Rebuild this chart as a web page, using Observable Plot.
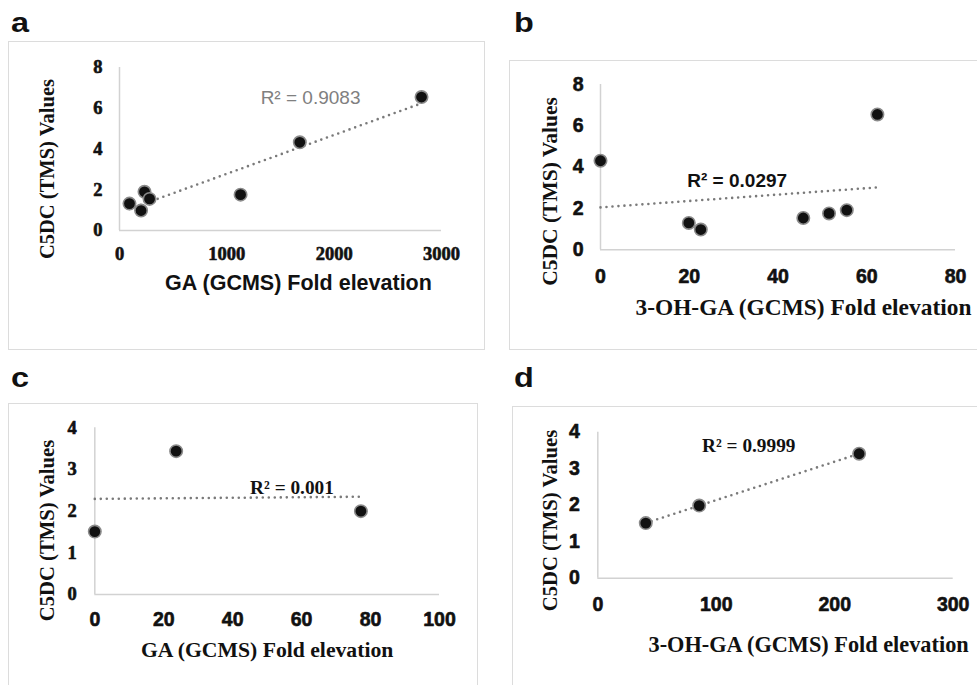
<!DOCTYPE html>
<html><head><meta charset="utf-8">
<script src="https://cdn.jsdelivr.net/npm/d3@7"></script>
<script src="https://cdn.jsdelivr.net/npm/@observablehq/plot@0.6"></script>
<style>
html,body{margin:0;padding:0;background:#fff;}
#page{position:relative;width:977px;height:685px;overflow:hidden;background:#fff;}
.frame{position:absolute;border:1.5px solid #dcdcdc;box-sizing:border-box;}
.letter{position:absolute;font-family:"Liberation Sans",Arial,Helvetica,sans-serif;font-weight:bold;font-size:27px;line-height:1;transform-origin:left top;transform:scaleX(1.2);color:#111;}
.panel{position:absolute;}
.panel svg{overflow:visible;max-width:none;background:transparent;}
</style></head><body><div id="page"></div>
<script>
// ---- data ----
const panelLetters = ["a", "b", "c", "d"];

const aX = [93, 201, 233, 280, 1128, 1680, 2814];
const aY = [1.32, 0.98, 1.90, 1.55, 1.76, 4.33, 6.55];
const bX = [0, 19.9, 22.6, 45.7, 51.5, 55.5, 62.4];
const bY = [4.31, 1.30, 0.98, 1.54, 1.76, 1.92, 6.55];
const cX = [0, 23.6, 77.2];
const cY = [1.51, 3.44, 2.00];
const dX = [40.5, 85.6, 220.6];
const dY = [1.51, 1.99, 3.41];

const aXTicks = [0, 1000, 2000, 3000];
const aYTicks = [0, 2, 4, 6, 8];
const bXTicks = [0, 20, 40, 60, 80];
const bYTicks = [0, 2, 4, 6, 8];
const cXTicks = [0, 20, 40, 60, 80, 100];
const cYTicks = [0, 1, 2, 3, 4];
const dXTicks = [0, 100, 200, 300];
const dYTicks = [0, 1, 2, 3, 4];

const r2Labels = ["R² = 0.9083", "R² = 0.0297", "R² = 0.001", "R² = 0.9999"];
const yTitles = ["C5DC (TMS) Values", "C5DC (TMS) Values", "C5DC (TMS) Values", "C5DC (TMS) Values"];
const xTitles = ["GA (GCMS) Fold elevation", "3-OH-GA (GCMS) Fold elevation", "GA (GCMS) Fold elevation", "3-OH-GA (GCMS) Fold elevation"];

// ---- layout / style ----
const SANS = '"Liberation Sans", Arial, Helvetica, sans-serif';
const SERIF = '"Liberation Serif", "Times New Roman", Times, serif';

const page = document.getElementById("page");

const frames = [
  {left: 8, top: 41, width: 477, height: 309},
  {left: 509, top: 60, width: 520, height: 290},
  {left: 8, top: 403, width: 470, height: 320},
  {left: 512, top: 406, width: 520, height: 320}
];
const letterPos = [{left: 11, top: 10}, {left: 514, top: 10}, {left: 11, top: 365}, {left: 514, top: 365}];

frames.forEach(f => {
  const d = document.createElement("div");
  d.className = "frame";
  Object.assign(d.style, {left: f.left + "px", top: f.top + "px", width: f.width + "px", height: f.height + "px"});
  page.appendChild(d);
});
panelLetters.forEach((t, i) => {
  const d = document.createElement("div");
  d.className = "letter";
  d.textContent = t;
  d.style.left = letterPos[i].left + "px";
  d.style.top = letterPos[i].top + "px";
  page.appendChild(d);
});

const panels = [
  {xs: aX, ys: aY, left: 0, top: 0, w: 490, h: 340, m: [67, 49, 110, 119],
   xDomain: [0, 3000], yDomain: [0, 8], xTicks: aXTicks, yTicks: aYTicks,
   xTickFont: SERIF, xTickSize: 18.5, xPad: 16, yTickFont: SERIF, yTickSize: 18.5, yPad: 17,
   r2: r2Labels[0], r2At: [1780, 6.52], r2Font: SANS, r2Size: 19, r2Weight: "normal", r2Fill: "#808080",
   yTitle: yTitles[0], yTitleFont: SERIF, yTitleSize: 20.5, yDx: -72, yDy: 20,
   xTitle: xTitles[0], xTitleFont: SANS, xTitleSize: 21.5, xAnchor: "bottom", xTextAnchor: "middle", xDx: 18, xDy: 53},
  {xs: bX, ys: bY, left: 490, top: 0, w: 487, h: 340, m: [84, 22, 90.7, 110],
   xDomain: [0, 80], yDomain: [0, 8], xTicks: bXTicks, yTicks: bYTicks,
   xTickFont: SANS, xTickSize: 19.5, xPad: 19, yTickFont: SANS, yTickSize: 19.5, yPad: 17,
   r2: r2Labels[1], r2At: [30.8, 3.35], r2Font: SANS, r2Size: 19, r2Weight: "bold", r2Fill: "#111",
   yTitle: yTitles[1], yTitleFont: SERIF, yTitleSize: 21.5, yDx: -50, yDy: 24.3,
   xTitle: xTitles[1], xTitleFont: SERIF, xTitleSize: 23.4, xAnchor: "bottom-left", xTextAnchor: "start", xDx: 35, xDy: 57.4},
  {xs: cX, ys: cY, left: 0, top: 340, w: 490, h: 345, m: [87.3, 51, 91, 94.3],
   xDomain: [0, 100], yDomain: [0, 4], xTicks: cXTicks, yTicks: cYTicks,
   xTickFont: SANS, xTickSize: 19.5, xPad: 18, yTickFont: SERIF, yTickSize: 18.5, yPad: 18,
   r2: r2Labels[2], r2At: [57.2, 2.57], r2Font: SERIF, r2Size: 19.3, r2Weight: "bold", r2Fill: "#111",
   yTitle: yTitles[2], yTitleFont: SERIF, yTitleSize: 20.7, yDx: -47.3, yDy: 19.3,
   xTitle: xTitles[2], xTitleFont: SERIF, xTitleSize: 21.7, xAnchor: "bottom", xTextAnchor: "middle", xDx: 0, xDy: 56},
  {xs: dX, ys: dY, left: 490, top: 340, w: 487, h: 345, m: [91.7, 24.3, 107.3, 107.3],
   xDomain: [0, 300], yDomain: [0, 4], xTicks: dXTicks, yTicks: dYTicks,
   xTickFont: SANS, xTickSize: 19.5, xPad: 19, yTickFont: SANS, yTickSize: 19.5, yPad: 18,
   r2: r2Labels[3], r2At: [127.4, 3.64], r2Font: SERIF, r2Size: 19.3, r2Weight: "bold", r2Fill: "#111",
   yTitle: yTitles[3], yTitleFont: SERIF, yTitleSize: 20.7, yDx: -47.3, yDy: 15.3,
   xTitle: xTitles[3], xTitleFont: SERIF, xTitleSize: 22.3, xAnchor: "bottom-left", xTextAnchor: "start", xDx: 50.7, xDy: 66.3}
];

panels.forEach(cfg => {
  const data = cfg.xs.map((x, i) => ({x, y: cfg.ys[i]}));
  const tickStyle = {tickSize: 0, fontWeight: "bold", fill: "#111", textStroke: "#111", textStrokeWidth: 0.6,
    tickFormat: d => String(d), label: null};
  const chart = Plot.plot({
    width: cfg.w, height: cfg.h,
    marginTop: cfg.m[0], marginRight: cfg.m[1], marginBottom: cfg.m[2], marginLeft: cfg.m[3],
    style: {background: "transparent", overflow: "visible", maxWidth: "none"},
    x: {domain: cfg.xDomain},
    y: {domain: cfg.yDomain},
    marks: [
      Plot.ruleY([0], {stroke: "#d2d2d2", strokeWidth: 1.5}),
      Plot.ruleX([0], {stroke: "#d2d2d2", strokeWidth: 1.5}),
      Plot.axisX(cfg.xTicks, {...tickStyle, tickPadding: cfg.xPad, fontSize: cfg.xTickSize, fontFamily: cfg.xTickFont}),
      Plot.axisY(cfg.yTicks, {...tickStyle, tickPadding: cfg.yPad, fontSize: cfg.yTickSize, fontFamily: cfg.yTickFont}),
      Plot.linearRegressionY(data, {x: "x", y: "y", ci: 0, stroke: "#7a7a7a", strokeWidth: 2.6,
        strokeDasharray: "0 6", strokeLinecap: "round"}),
      Plot.dot(data, {x: "x", y: "y", r: 6.2, fill: "#111", stroke: "#8a8a8a", strokeWidth: 1.6}),
      Plot.text([cfg.r2], {x: cfg.r2At[0], y: cfg.r2At[1], text: d => d, fontFamily: cfg.r2Font, fontSize: cfg.r2Size,
        fontWeight: cfg.r2Weight, fill: cfg.r2Fill, lineAnchor: "middle"}),
      Plot.text([cfg.yTitle], {frameAnchor: "left", rotate: -90, dx: cfg.yDx, dy: cfg.yDy, text: d => d,
        fontFamily: cfg.yTitleFont, fontSize: cfg.yTitleSize, fontWeight: "bold", fill: "#111", lineAnchor: "middle", textAnchor: "middle"}),
      Plot.text([cfg.xTitle], {frameAnchor: cfg.xAnchor, dx: cfg.xDx, dy: cfg.xDy, text: d => d,
        fontFamily: cfg.xTitleFont, fontSize: cfg.xTitleSize, fontWeight: "bold", fill: "#111", lineAnchor: "middle", textAnchor: cfg.xTextAnchor})
    ]
  });
  const holder = document.createElement("div");
  holder.className = "panel";
  holder.style.left = cfg.left + "px";
  holder.style.top = cfg.top + "px";
  holder.appendChild(chart);
  page.appendChild(holder);
});
</script>
</body></html>
